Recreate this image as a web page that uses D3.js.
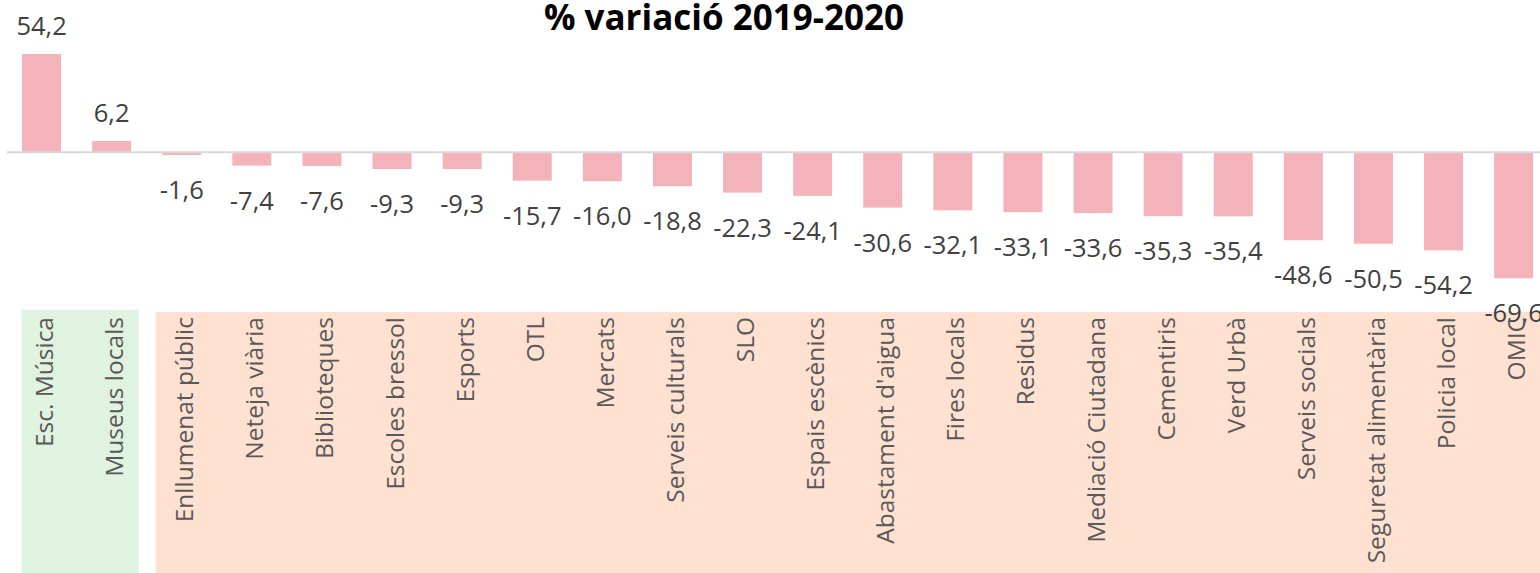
<!DOCTYPE html>
<html>
<head>
<meta charset="utf-8">
<script src="https://cdn.jsdelivr.net/npm/d3@7"></script>
<style>
  html, body { margin: 0; padding: 0; background: #fff; }
  svg { display: block; }
</style>
</head>
<body>
<svg id="chart" width="1540" height="573"></svg>
<script>
const title = "% variació 2019-2020";
const categories = ["Esc. Música", "Museus locals", "Enllumenat públic", "Neteja viària", "Biblioteques",
  "Escoles bressol", "Esports", "OTL", "Mercats", "Serveis culturals", "SLO", "Espais escènics",
  "Abastament d'aigua", "Fires locals", "Residus", "Mediació Ciutadana", "Cementiris", "Verd Urbà",
  "Serveis socials", "Seguretat alimentària", "Policia local", "OMIC"];
const values = [54.2, 6.2, -1.6, -7.4, -7.6, -9.3, -9.3, -15.7, -16.0, -18.8, -22.3, -24.1,
  -30.6, -32.1, -33.1, -33.6, -35.3, -35.4, -48.6, -50.5, -54.2, -69.6];
const positiveGroup = ["Esc. Música", "Museus locals"];
const negativeGroup = categories.filter(c => !positiveGroup.includes(c));

const W = 1540, H = 573;
const svg = d3.select("#chart");
const font = "'Open Sans', 'Noto Sans', sans-serif";

const x = d3.scaleBand().domain(categories).range([6.5, 1548.7]).paddingInner(0.444).paddingOuter(0.222);
const y = d3.scaleLinear().domain([-69.6, 54.2]).range([278.3, 54]);

// background group panels behind category labels
const groups = [
  { cats: positiveGroup, fill: "#DFF3E0", top: 310, padL: 0.5, padR: 7.5 },
  { cats: negativeGroup, fill: "#FEE1D1", top: 312, padL: 6.7, padR: 20 }
];
groups.forEach(g => {
  const x0 = x(g.cats[0]) - g.padL;
  const x1 = Math.min(W, x(g.cats[g.cats.length - 1]) + x.bandwidth() + g.padR);
  svg.append("rect").attr("x", x0).attr("y", g.top).attr("width", x1 - x0).attr("height", H - g.top).attr("fill", g.fill);
});

// title
svg.append("text").attr("x", 724).attr("y", 30).attr("text-anchor", "middle")
  .attr("font-family", font).attr("font-weight", "bold").attr("font-size", 35).attr("fill", "#000")
  .text(title);

// bars
const data = categories.map((c, i) => ({ c, v: values[i] }));
svg.append("g").selectAll("rect").data(data).join("rect")
  .attr("x", d => x(d.c))
  .attr("width", x.bandwidth())
  .attr("y", d => y(Math.max(0, d.v)))
  .attr("height", d => Math.abs(y(d.v) - y(0)))
  .attr("fill", "#F4B2BB");

// zero line
svg.append("line").attr("x1", 7).attr("x2", W).attr("y1", y(0)).attr("y2", y(0))
  .attr("stroke", "#D9D9D9").attr("stroke-width", 2);

// value labels
const fmt = v => v.toFixed(1).replace(".", ",");
svg.append("g").selectAll("text").data(data).join("text")
  .attr("x", d => x(d.c) + x.bandwidth() / 2)
  .attr("y", d => d.v >= 0 ? y(d.v) - 29 : y(d.v) + 34)
  .attr("text-anchor", "middle").attr("dominant-baseline", "central")
  .attr("font-family", font).attr("font-size", 25.5).attr("fill", "#404040")
  .text(d => fmt(d.v));

// category labels (rotated)
svg.append("g").selectAll("text").data(categories).join("text")
  .attr("transform", c => `translate(${x(c) + x.bandwidth() / 2 + 2},317) rotate(-90)`)
  .attr("text-anchor", "end").attr("dominant-baseline", "central")
  .attr("font-family", font).attr("font-size", 24.5).attr("fill", "#595959")
  .text(c => c);
</script>
</body>
</html>
